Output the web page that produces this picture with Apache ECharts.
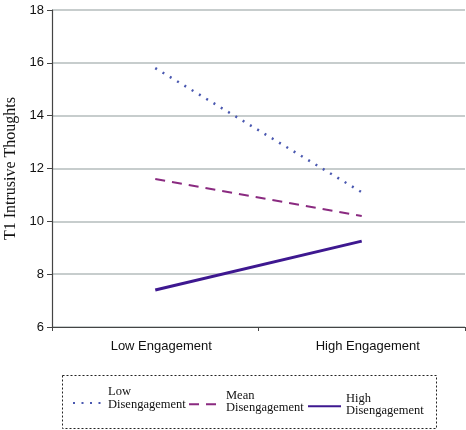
<!DOCTYPE html>
<html>
<head>
<meta charset="utf-8">
<script src="https://cdn.jsdelivr.net/npm/echarts@6/dist/echarts.min.js"></script>
<style>
html,body{margin:0;padding:0;background:#fff;}
#chart{width:466px;height:430px;}
</style>
</head>
<body>
<div id="chart"></div>
<script>
var categories = ['Low Engagement', 'High Engagement'];
var lowDisengagement = [15.8, 11.1];
var meanDisengagement = [11.6, 10.2];
var highDisengagement = [7.4, 9.25];
var yTicks = [6, 8, 10, 12, 14, 16, 18];
var seriesNames = ['Low\nDisengagement', 'Mean\nDisengagement', 'High\nDisengagement'];

function makeLegend(name, left, top, width, spacer, padLeft) {
  return {
    data: [name],
    left: left,
    top: top,
    padding: 0,
    itemWidth: width,
    itemHeight: 12,
    itemStyle: {opacity: 0},
    formatter: function (n) { return n + '\n{s| }'; },
    textStyle: {fontFamily: 'Liberation Serif', fontSize: 12.5, color: '#111', lineHeight: 12.5,
      padding: [0, 0, 0, padLeft],
      rich: {s: {lineHeight: spacer, fontSize: 2}}}
  };
}

var chart = echarts.init(document.getElementById('chart'), null, {renderer: 'canvas'});
var option = {
  animation: false,
  backgroundColor: '#ffffff',
  grid: {left: 52, right: 1, top: 10, bottom: 103, containLabel: false, outerBoundsMode: 'none'},
  xAxis: {
    type: 'category',
    data: categories,
    boundaryGap: true,
    axisLine: {lineStyle: {color: '#444', width: 1.2}},
    axisTick: {show: true, length: 4, lineStyle: {color: '#444'}},
    axisLabel: {color: '#111', fontFamily: 'Liberation Sans', fontSize: 13, margin: 13, padding: [0, 0, 0, 12]},
    splitLine: {show: false}
  },
  yAxis: {
    type: 'value',
    min: yTicks[0],
    max: yTicks[yTicks.length - 1],
    interval: 2,
    name: 'T1 Intrusive Thoughts',
    nameLocation: 'middle',
    nameGap: 29,
    nameTextStyle: {fontFamily: 'Liberation Serif', fontSize: 16, color: '#111'},
    axisLine: {show: true, lineStyle: {color: '#444', width: 1.2}},
    axisTick: {show: true, length: 5, lineStyle: {color: '#444'}},
    axisLabel: {color: '#111', fontFamily: 'Liberation Sans', fontSize: 13, margin: 8},
    splitLine: {show: true, lineStyle: {color: '#b4bcbc', width: 1.5}}
  },
  legend: [
    makeLegend(seriesNames[0], 72, 385.7, 30, 9, 0),
    makeLegend(seriesNames[1], 188, 389, 31, 5, 1),
    makeLegend(seriesNames[2], 307, 392, 33, 3, 0)
  ],
  series: [
    {
      name: seriesNames[0], type: 'line', data: lowDisengagement,
      symbol: 'none',
      lineStyle: {color: '#4a58b0', width: 2.5, type: [2, 6.5]},
      itemStyle: {color: '#4a58b0'}
    },
    {
      name: seriesNames[1], type: 'line', data: meanDisengagement,
      symbol: 'none',
      lineStyle: {color: '#8a2a80', width: 2, type: [10, 7]},
      itemStyle: {color: '#8a2a80'}
    },
    {
      name: seriesNames[2], type: 'line', data: highDisengagement,
      symbol: 'none',
      lineStyle: {color: '#3e1890', width: 3},
      itemStyle: {color: '#3e1890'}
    }
  ],
  graphic: [{
    type: 'rect',
    shape: {x: 62.5, y: 375.5, width: 374, height: 53},
    style: {fill: 'none', stroke: '#222', lineWidth: 1, lineDash: [2, 2]},
    z: -1
  }]
};
chart.setOption(option);
</script>
</body>
</html>
